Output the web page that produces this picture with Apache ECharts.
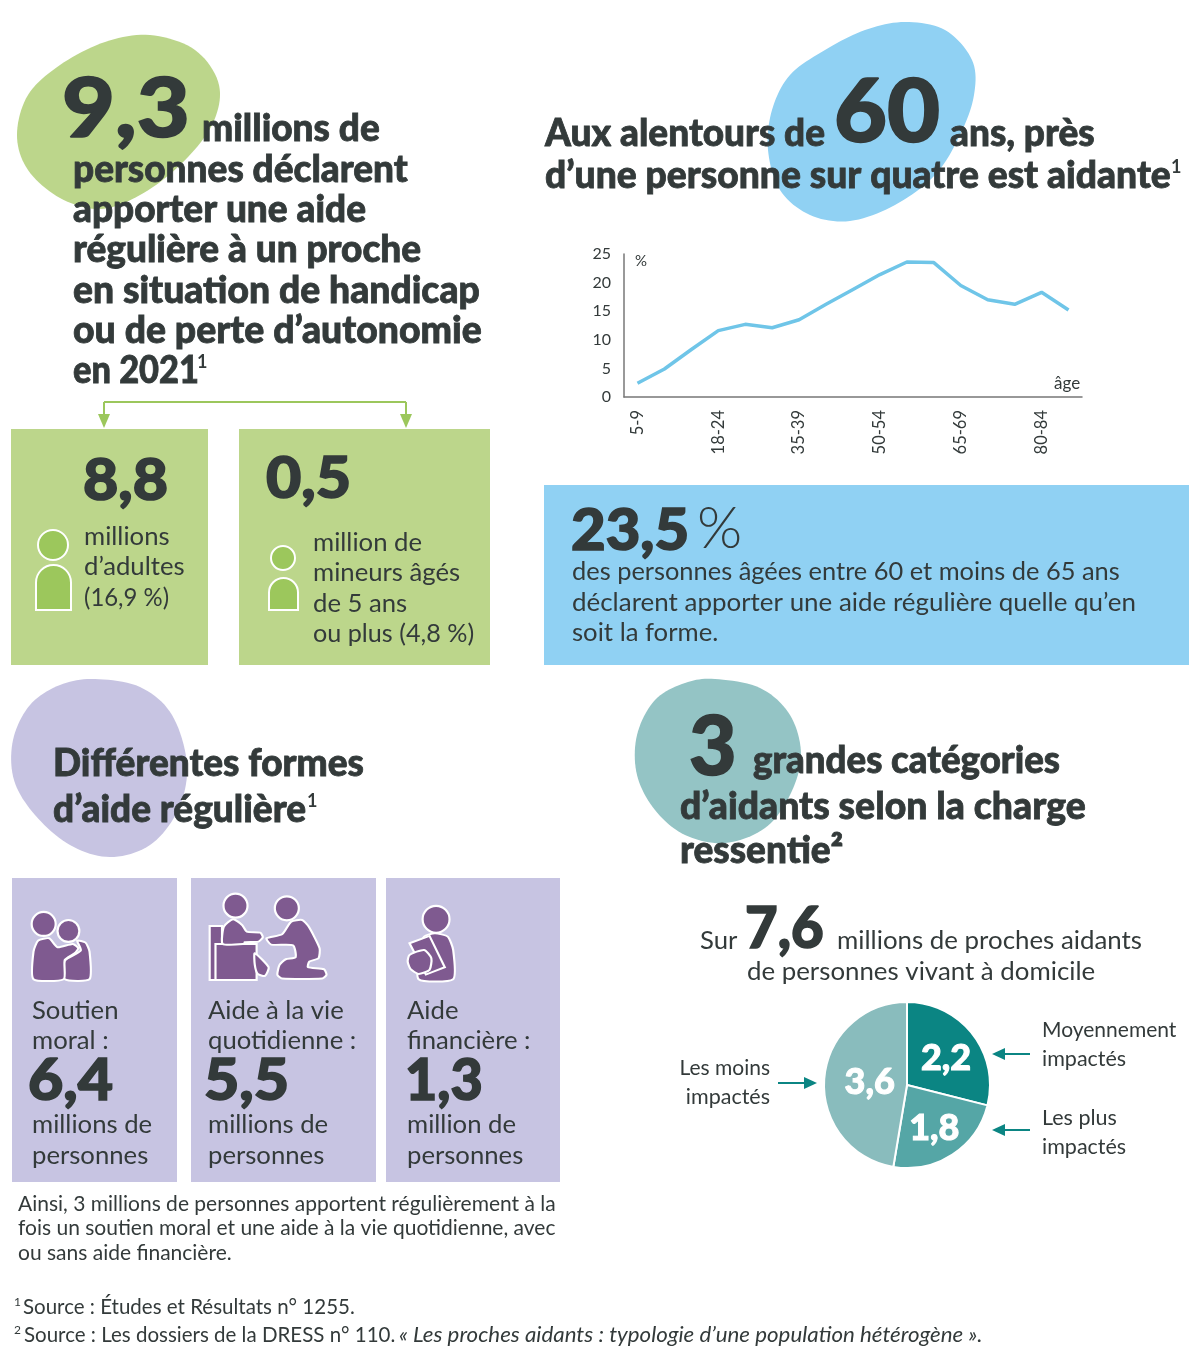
<!DOCTYPE html>
<html lang="fr">
<head>
<meta charset="utf-8">
<title>Proches aidants</title>
<script src="https://cdn.jsdelivr.net/npm/echarts@6/dist/echarts.min.js"></script>
<style>
  html, body { margin: 0; padding: 0; background: #fff; }
  #main { width: 1200px; height: 1362px; }
</style>
</head>
<body>
<div id="main"></div>
<script>
// courbe : part d'aidants par age
var ageGroups = ['5-9', '10-14', '15-17', '18-24', '25-29', '30-34', '35-39', '40-44', '45-49',
  '50-54', '55-59', '60-64', '65-69', '70-74', '75-79', '80-84', '85+'];
var aidantShare = [2.4, 4.9, 8.3, 11.6, 12.7, 12.1, 13.5, 16.2, 18.8, 21.4, 23.6, 23.5, 19.5, 17, 16.2, 18.3, 15.2];

// camembert : 7,6 millions d'aidants
var chargeNames = ['Moyennement impactés', 'Les plus impactés', 'Les moins impactés'];
var chargeValues = [2.2, 1.8, 3.6];
var chargeColors = ['#0b8583', '#55a6a6', '#89bcbd'];

var DARK = '#333a3a';
var GREEN = '#bcd68b', GREEN2 = '#9cc75c', BLUE = '#90d1f3', PURPLE = '#c7c4e2', VIOLET = '#7f5a90', TEAL = '#0b8583';
var FONT = 'Lato';
var HEAD = 37, BODY = 25.7;

var chart = echarts.init(document.getElementById('main'));

function txt(x, y, str, size, weight, opt) {
  opt = opt || {};
  var style = {
    text: str,
    font: (opt.italic ? 'italic ' : '') + weight + ' ' + size + 'px ' + FONT,
    fill: opt.color || DARK,
    textAlign: opt.align || 'left', align: opt.align || 'left',
    textVerticalAlign: 'middle', verticalAlign: 'middle'
  };
  if (weight >= 900) {
    style.stroke = DARK;
    style.lineWidth = size > 50 ? 1.6 : 0.8;
  }
  return { type: 'text', x: x, y: y + 1, z: 10, scaleX: opt.sx || 1, style: style };
}
function box(x0, y0, x1, y1, color) {
  return { type: 'rect', z: 1, shape: { x: x0, y: y0, width: x1 - x0, height: y1 - y0 }, style: { fill: color } };
}
// contour souple passant par les points donnes (catmull-rom ferme)
function blob(pts, color) {
  var out = [], n = pts.length;
  for (var i = 0; i < n; i++) {
    var p0 = pts[(i + n - 1) % n], p1 = pts[i], p2 = pts[(i + 1) % n], p3 = pts[(i + 2) % n];
    for (var k = 0; k < 10; k++) {
      var t = k / 10, t2 = t * t, t3 = t2 * t;
      out.push([0, 1].map(function (d) {
        return 0.5 * (2 * p1[d] + (p2[d] - p0[d]) * t + (2 * p0[d] - 5 * p1[d] + 4 * p2[d] - p3[d]) * t2 + (3 * p1[d] - p0[d] - 3 * p2[d] + p3[d]) * t3);
      }));
    }
  }
  return { type: 'polygon', z: 1, shape: { points: out }, style: { fill: color } };
}
function segment(x0, y0, x1, y1, color, w) {
  return { type: 'line', z: 1, shape: { x1: x0, y1: y0, x2: x1, y2: y1 }, style: { stroke: color, lineWidth: w } };
}
function tri(a, b, c, color) {
  return { type: 'polygon', z: 1, shape: { points: [a, b, c] }, style: { fill: color } };
}
function person(cx, cy, r, bx, by, bw, bh) {
  var st = { fill: GREEN2, stroke: '#fff', lineWidth: 2 };
  return [
    { type: 'circle', z: 2, shape: { cx: cx, cy: cy, r: r }, style: st },
    { type: 'rect', z: 2, shape: { x: bx, y: by, width: bw, height: bh, r: [bw / 2, bw / 2, 0, 0] }, style: st }
  ];
}
// pictos violets, dessines dans le repere du zoom puis mis a l'echelle par le groupe
function icon(children) {
  return { type: 'group', x: 0, y: 870, scaleX: 0.364, scaleY: 0.333, z: 2, children: children };
}
function ip(points, s) {
  return { type: 'polygon', z: 3, shape: { points: points, smooth: s === undefined ? 0.2 : s }, style: { fill: VIOLET, stroke: '#fff', lineWidth: 6 } };
}
function ic(cx, cy, r) {
  return { type: 'circle', z: 3, x: cx, y: cy, scaleY: 0.364 / 0.333, shape: { cx: 0, cy: 0, r: r }, style: { fill: VIOLET, stroke: '#fff', lineWidth: 6 } };
}

var shapes = [
  blob([[150, 35], [195, 50], [219, 85], [212, 125], [180, 165], [140, 195], [100, 209], [60, 198], [28, 170], [17, 135], [28, 95], [60, 65], [105, 42]], GREEN),
  blob([[905, 22], [945, 30], [972, 60], [974, 95], [960, 135], [935, 175], [895, 205], [850, 221], [810, 215], [780, 190], [768, 150], [772, 110], [790, 75], [825, 50], [865, 30]], BLUE),
  blob([[95, 679], [140, 687], [172, 715], [187, 765], [178, 810], [150, 845], [110, 857], [70, 845], [35, 815], [14, 780], [13, 740], [30, 705], [60, 685]], PURPLE),
  blob([[715, 679], [760, 688], [790, 715], [801, 755], [790, 795], [765, 828], [725, 843], [685, 835], [655, 810], [637, 775], [637, 735], [655, 700], [685, 683]], '#94c4c5'),

  // accolade verte
  segment(104, 402, 406, 402, GREEN2, 2),
  segment(104, 402, 104, 418, GREEN2, 2),
  segment(406, 402, 406, 418, GREEN2, 2),
  tri([98, 414], [110, 414], [104, 428], GREEN2),
  tri([400, 414], [412, 414], [406, 428], GREEN2),

  box(11, 429, 208, 665, GREEN),
  box(239, 429, 490, 665, GREEN),
  box(544, 485, 1189, 665, BLUE),
  box(12, 878, 177, 1182, PURPLE),
  box(191, 878, 376, 1182, PURPLE),
  box(386, 878, 560, 1182, PURPLE),

  // fleches du camembert
  segment(1030, 1054, 1002, 1054, TEAL, 2),
  tri([992, 1054], [1005, 1048], [1005, 1060], TEAL),
  segment(1030, 1130, 1002, 1130, TEAL, 2),
  tri([992, 1130], [1005, 1124], [1005, 1136], TEAL),
  segment(778, 1083, 807, 1083, TEAL, 2),
  tri([817, 1083], [804, 1077], [804, 1089], TEAL),

  // soutien moral
  icon([
    ip([[178, 328], [178, 272], [222, 242], [212, 212], [235, 218], [246, 245], [246, 328]]),
    ic(188, 183, 30),
    ip([[92, 328], [92, 245], [105, 212], [135, 205], [158, 232], [200, 222], [215, 235], [205, 250], [178, 270], [175, 328]]),
    ic(120, 162, 33)
  ]),
  // aide a la vie quotidienne
  icon([
    ip([[576, 168], [610, 168], [610, 330], [576, 330]], 0),
    ip([[592, 222], [705, 222], [705, 330], [592, 330]], 0),
    ip([[700, 250], [738, 292], [728, 318], [708, 312], [700, 285]]),
    ip([[612, 222], [615, 170], [640, 148], [665, 165], [678, 185], [715, 188], [722, 202], [710, 215], [672, 217], [672, 222]]),
    ic(647, 107, 33),
    ip([[732, 205], [775, 193], [800, 155], [830, 150], [848, 170], [878, 235], [875, 265], [850, 275], [846, 292], [890, 298], [897, 315], [885, 326], [775, 326], [762, 315], [768, 285], [785, 268], [812, 262], [805, 226], [745, 224]]),
    ic(788, 115, 33)
  ]),
  // aide financiere
  icon([
    ip([[1150, 328], [1152, 235], [1165, 200], [1195, 190], [1230, 200], [1245, 240], [1245, 328]]),
    ic(1198, 148, 37),
    ip([[1125, 220], [1180, 198], [1222, 292], [1170, 314]], 0),
    ip([[1125, 255], [1165, 240], [1185, 265], [1180, 300], [1150, 312], [1128, 298], [1120, 275]])
  ])
].concat(person(53, 545, 15, 36, 565, 35, 45), person(283, 558, 12, 269, 578, 29, 32));

var texts = [
  txt(62, 110, '9,3', 82, 900, { sx: 1.115 }),
  txt(202, 128, 'millions de', HEAD, 900),
  txt(73, 169, 'personnes déclarent', HEAD, 900),
  txt(73, 209, 'apporter une aide', HEAD, 900),
  txt(73, 249, 'régulière à un proche', HEAD, 900),
  txt(73, 290, 'en situation de handicap', HEAD, 900, { sx: 1.007 }),
  txt(73, 330, 'ou de perte d’autonomie', HEAD, 900, { sx: 1.01 }),
  txt(73, 370, 'en 2021', HEAD, 900, { sx: 0.93 }),
  txt(197, 361, '1', 18, 700),

  txt(83, 480, '8,8', 58, 900, { sx: 1.05 }),
  txt(84, 536, 'millions', BODY, 400),
  txt(84, 566, 'd’adultes', BODY, 400),
  txt(84, 597, '(16,9 %)', BODY, 400, { sx: 0.93 }),
  txt(266, 478, '0,5', 58, 900, { sx: 1.05 }),
  txt(313, 542, 'million de', BODY, 400),
  txt(313, 572, 'mineurs âgés', BODY, 400),
  txt(313, 603, 'de 5 ans', BODY, 400),
  txt(313, 633, 'ou plus (4,8 %)', BODY, 400, { sx: 0.98 }),

  txt(545, 133, 'Aux alentours de', HEAD, 900),
  txt(834, 113, '60', 88, 900, { sx: 1.04 }),
  txt(950, 133, 'ans, près', HEAD, 900),
  txt(545, 175, 'd’une personne sur quatre est aidante', HEAD, 900, { sx: 1.006 }),
  txt(1171, 166, '1', 18, 700),
  txt(635, 260, '%', 15, 400),
  txt(1054, 383, 'âge', 17, 400),

  txt(571, 530, '23,5', 58, 900, { sx: 1.03 }),
  txt(697, 528, '%', 58, 300),
  txt(572, 571, 'des personnes âgées entre 60 et moins de 65 ans', BODY, 400, { sx: 0.989 }),
  txt(572, 602, 'déclarent apporter une aide régulière quelle qu’en', BODY, 400, { sx: 1.01 }),
  txt(572, 632, 'soit la forme.', BODY, 400),

  txt(53, 763, 'Différentes formes', HEAD, 900),
  txt(53, 809, 'd’aide régulière', HEAD, 900),
  txt(307, 800, '1', 18, 700),

  txt(32, 1010, 'Soutien', BODY, 400),
  txt(32, 1040, 'moral :', BODY, 400),
  txt(28, 1080, '6,4', 58, 900, { sx: 1.05 }),
  txt(32, 1124, 'millions de', BODY, 400),
  txt(32, 1155, 'personnes', BODY, 400),
  txt(208, 1010, 'Aide à la vie', BODY, 400),
  txt(208, 1040, 'quotidienne :', BODY, 400),
  txt(204, 1080, '5,5', 58, 900, { sx: 1.05 }),
  txt(208, 1124, 'millions de', BODY, 400),
  txt(208, 1155, 'personnes', BODY, 400),
  txt(407, 1010, 'Aide', BODY, 400),
  txt(407, 1040, 'financière :', BODY, 400),
  txt(405, 1080, '1,3', 58, 900, { sx: 0.96 }),
  txt(407, 1124, 'million de', BODY, 400),
  txt(407, 1155, 'personnes', BODY, 400),

  txt(18, 1203, 'Ainsi, 3 millions de personnes apportent régulièrement à la', 21, 400),
  txt(18, 1227, 'fois un soutien moral et une aide à la vie quotidienne, avec', 21, 400),
  txt(18, 1252, 'ou sans aide financière.', 21, 400),

  txt(689, 748, '3', 82, 900),
  txt(753, 760, 'grandes catégories', HEAD, 900, { sx: 0.99 }),
  txt(680, 806, 'd’aidants selon la charge', HEAD, 900, { sx: 1.01 }),
  txt(680, 850, 'ressentie²', HEAD, 900),

  txt(700, 940, 'Sur', BODY, 400),
  txt(745, 928, '7,6', 58, 900, { sx: 0.97 }),
  txt(837, 940, 'millions de proches aidants', BODY, 400, { sx: 1.007 }),
  txt(747, 971, 'de personnes vivant à domicile', BODY, 400, { sx: 1.006 }),

  txt(1042, 1029, 'Moyennement', 21, 400),
  txt(1042, 1058, 'impactés', 21.5, 400),
  txt(1042, 1117, 'Les plus', 21.5, 400),
  txt(1042, 1146, 'impactés', 21.5, 400),
  txt(770, 1067, 'Les moins', 21, 400, { align: 'right' }),
  txt(770, 1096, 'impactés', 21.5, 400, { align: 'right' }),

  txt(14, 1301, '1', 12, 400),
  txt(23, 1306, 'Source : Études et Résultats n° 1255.', 20.5, 400),
  txt(14, 1329, '2', 12, 400),
  txt(24, 1334, 'Source : Les dossiers de la DRESS n° 110.', 20.5, 400),
  txt(399, 1334, '« Les proches aidants : typologie d’une population hétérogène ».', 20.5, 400, { italic: true, sx: 1.088 })
];

// petit recalage des valeurs dans les parts
var pieLabelShift = [[4, 1], [3, 6], [7, 1]];

chart.setOption({
  animation: false,
  backgroundColor: '#fff',
  graphic: { elements: shapes.concat(texts) },
  grid: { left: 624, top: 254, width: 458, height: 143 },
  xAxis: {
    type: 'category',
    data: ageGroups,
    offset: 2,
    axisLine: { lineStyle: { color: '#777', width: 1.5 } },
    axisTick: { show: false },
    axisLabel: { interval: 2, rotate: 90, margin: 11, padding: [5, 0, 0, 0], fontFamily: FONT, fontSize: 16.5, color: DARK }
  },
  yAxis: {
    type: 'value',
    min: 0, max: 25, interval: 5,
    axisLine: { show: true, lineStyle: { color: '#777', width: 1.5 } },
    axisTick: { show: false },
    splitLine: { show: false },
    axisLabel: { margin: 13, fontFamily: FONT, fontSize: 16, color: DARK }
  },
  series: [
    {
      type: 'line',
      data: aidantShare,
      symbol: 'none',
      lineStyle: { color: '#6fc5e8', width: 3.5 }
    },
    {
      type: 'pie',
      center: [907, 1085],
      radius: [0, 83],
      startAngle: 90,
      clockwise: true,
      silent: true,
      data: chargeValues.map(function (v, i) {
        return { name: chargeNames[i], value: v, itemStyle: { color: chargeColors[i] } };
      }),
      itemStyle: { borderColor: '#fff', borderWidth: 2 },
      label: {
        position: 'inside',
        formatter: function (p) { return String(p.value).replace('.', ','); },
        fontFamily: FONT, fontSize: 36, fontWeight: 900, color: '#fff',
        textBorderColor: '#fff', textBorderWidth: 1
      },
      labelLayout: function (p) {
        return { dx: pieLabelShift[p.dataIndex][0], dy: pieLabelShift[p.dataIndex][1] };
      },
      labelLine: { show: false }
    }
  ]
});
</script>
</body>
</html>
